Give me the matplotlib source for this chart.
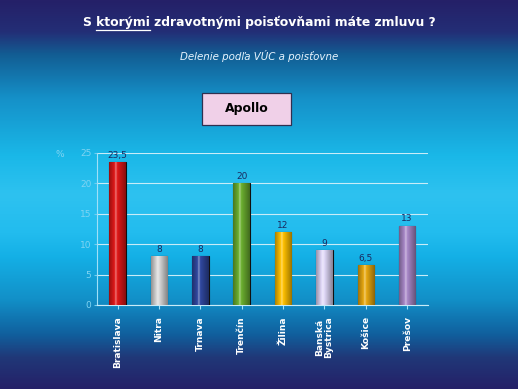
import numpy as np
import matplotlib.pyplot as plt
from matplotlib.colors import LinearSegmentedColormap, to_rgb
from matplotlib.patches import Rectangle

# data
regions = ['Bratislava', 'Nitra', 'Trnava', 'Trenčín', 'Žilina', 'Banská\nBystrica', 'Košice', 'Prešov']
values = [23.5, 8, 8, 20, 12, 9, 6.5, 13]
value_labels = ['23,5', '8', '8', '20', '12', '9', '6,5', '13']
bar_colors = ['#e01818', '#d8d8d8', '#3048a0', '#6cb030', '#ffc000', '#e0d8f8', '#e8a810', '#a888c8']
yticks = [0, 5, 10, 15, 20, 25]

fig = plt.figure(figsize=(5.18, 3.89), dpi=100)

# background gradient (top -> bottom)
bg = fig.add_axes([0, 0, 1, 1], zorder=-5)
bg_cmap = LinearSegmentedColormap.from_list('bg', [
    (0.0, '#252068'), (0.08, '#232e76'), (0.14, '#125e94'), (0.25, '#1590c8'),
    (0.4, '#1ab8e8'), (0.5, '#2ec2f0'), (0.6, '#22bcee'), (0.66, '#14b0e6'),
    (0.77, '#1290c8'), (0.86, '#10609e'), (0.92, '#203878'), (1.0, '#252068')])
grad = np.linspace(0, 1, 256).reshape(-1, 1)
bg.imshow(grad, aspect='auto', cmap=bg_cmap, extent=[0, 1, 0, 1])
bg.axis('off')

ax = fig.add_axes([0.187, 0.216, 0.639, 0.391])
ax.patch.set_alpha(0)
x = np.arange(len(regions))
bars = ax.bar(x, values, width=0.4, color=bar_colors, edgecolor='#101010', linewidth=0.8, zorder=3)

# cylinder shading on the bars
shade = np.concatenate([np.linspace(0.45, 1.0, 40), np.linspace(1.0, 0.35, 60)])
for b, c in zip(bars, bar_colors):
    rgb = np.array(to_rgb(c))
    img = np.zeros((1, len(shade), 3))
    for i, s in enumerate(shade):
        if s >= 0.9:
            img[0, i] = rgb + (1 - rgb) * (s - 0.9) * 4
        else:
            img[0, i] = rgb * (0.35 + 0.65 * s / 0.9)
    img = np.clip(img, 0, 1)
    im = ax.imshow(img, aspect='auto', extent=[b.get_x(), b.get_x() + b.get_width(), 0, b.get_height()], zorder=3)
    im.set_clip_path(b)

for xi, v, lab in zip(x, values, value_labels):
    ax.text(xi, v + 0.4, lab, ha='center', va='bottom', fontsize=6.5, color='#1a2a60', zorder=4)

ax.set_xlim(-0.5, len(regions) - 0.5)
ax.set_ylim(0, 25)
ax.set_yticks(yticks)
ax.grid(axis='y', color='#c8ecf8', linewidth=0.8, zorder=1)
ax.tick_params(axis='y', colors='#70cdf0', labelsize=6.5, length=2, pad=2)
ax.tick_params(axis='y', labelcolor='#80d4f2')
ax.set_xticks(x)
ax.set_xticklabels(regions, rotation=90, fontsize=6.6, fontweight='bold', color='white', va='top', linespacing=1.05)
ax.tick_params(axis='x', colors='#a0e0f8', length=3, pad=5)
ax.tick_params(axis='x', labelcolor='white')
for s in ['top', 'right']:
    ax.spines[s].set_visible(False)
ax.spines['left'].set_color('#a0e0f8')
ax.spines['bottom'].set_color('#c8ecf8')
ax.set_axisbelow(True)
fig.text(0.116, 0.604, '%', fontsize=6.5, color='#80d4f2', ha='center', va='center')

# title with underlined word
fs = 8.9
t = fig.text(0.5, 0.943, 'S ktorými zdravotnými poisťovňami máte zmluvu ?', ha='center', va='center',
             fontsize=fs, fontweight='bold', color='white')
r = fig.canvas.get_renderer()
tb = t.get_window_extent(r)
p1 = fig.text(0, 0, 'S k', fontsize=fs, fontweight='bold')
p0 = fig.text(0, 0, 'k', fontsize=fs, fontweight='bold')
p2 = fig.text(0, 0, 'S ktorými', fontsize=fs, fontweight='bold')
w1 = p1.get_window_extent(r).width - p0.get_window_extent(r).width
w2 = p2.get_window_extent(r).width
for p in (p0, p1, p2):
    p.remove()
W, H = fig.bbox.width, fig.bbox.height
x0 = (tb.x0 + w1) / W
x1 = (tb.x0 + w2) / W
uy = (tb.y0 - 1) / H
fig.add_artist(plt.Line2D([x0, x1], [uy, uy], color='white', linewidth=0.9, transform=fig.transFigure))

fig.text(0.5, 0.857, 'Delenie podľa VÚC a poisťovne', ha='center', va='center', fontsize=7.4,
         style='italic', color='#e8f4ff')

fig.add_artist(Rectangle((0.390, 0.679), 0.172, 0.082, transform=fig.transFigure,
                         facecolor='#f0d0e8', edgecolor='#303050', linewidth=0.9))
fig.text(0.476, 0.72, 'Apollo', ha='center', va='center', fontsize=9, fontweight='bold', color='black')

fig.savefig('out.png', dpi=100)
